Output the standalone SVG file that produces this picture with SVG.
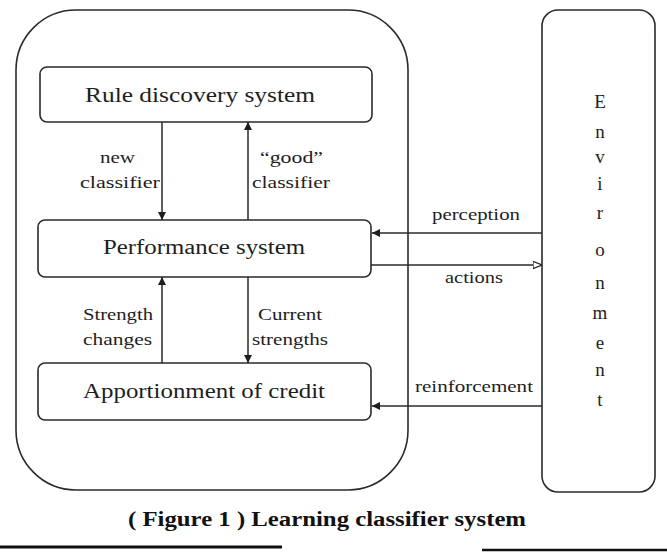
<svg xmlns="http://www.w3.org/2000/svg" width="667" height="560" viewBox="0 0 667 560">
<style>
.box{fill:none;stroke:#2a2a2a;stroke-width:1.6}
.ln{stroke:#2a2a2a;stroke-width:1.5;fill:none}
.t{font-family:"Liberation Serif","Times New Roman",serif;fill:#1e1e1e}
.title{font-size:20px}
.lbl{font-size:16px}
.env{font-size:19px;text-anchor:middle}
.cap{font-family:"Liberation Serif","Times New Roman",serif;font-weight:bold;font-size:20px;fill:#111}
</style>
<defs>
<marker id="fa" viewBox="0 0 10 10" refX="10" refY="5" markerWidth="8" markerHeight="8" markerUnits="userSpaceOnUse" orient="auto"><path d="M0,0 L10,5 L0,10 z" fill="#1e1e1e"/></marker>
<marker id="oa" viewBox="0 0 10 10" refX="10" refY="5" markerWidth="9" markerHeight="9" markerUnits="userSpaceOnUse" orient="auto"><path d="M0,1 L10,5 L0,9 z" fill="#fff" stroke="#1e1e1e" stroke-width="1.3"/></marker>
</defs>
<rect width="667" height="560" fill="#fff"/>
<g id="lcs">
<rect class="box" x="16" y="10" width="392" height="480" rx="60" ry="60"/>
</g>
<g id="rule">
<rect class="box" x="40" y="67" width="332" height="55" rx="7"/>
<text class="t title" x="85" y="102" textLength="230" lengthAdjust="spacingAndGlyphs">Rule discovery system</text>
</g>
<g id="perf">
<rect class="box" x="38" y="220" width="333" height="57" rx="7"/>
<text class="t title" x="103" y="254" textLength="202" lengthAdjust="spacingAndGlyphs">Performance system</text>
</g>
<g id="appo">
<rect class="box" x="38" y="363" width="333" height="57" rx="7"/>
<text class="t title" x="83" y="398" textLength="242" lengthAdjust="spacingAndGlyphs">Apportionment of credit</text>
</g>
<g id="env">
<rect class="box" x="542" y="10" width="113" height="482" rx="16"/>
<text class="t env" x="600" y="108">E</text>
<text class="t env" x="600" y="138">n</text>
<text class="t env" x="600" y="163">v</text>
<text class="t env" x="600" y="190">i</text>
<text class="t env" x="600" y="219">r</text>
<text class="t env" x="600" y="256">o</text>
<text class="t env" x="600" y="289">n</text>
<text class="t env" x="600" y="319">m</text>
<text class="t env" x="600" y="349">e</text>
<text class="t env" x="600" y="376">n</text>
<text class="t env" x="600" y="406">t</text>
</g>
<g id="connectors">
<line class="ln" x1="162" y1="122" x2="162" y2="220" marker-end="url(#fa)"/>
<line class="ln" x1="248" y1="220" x2="248" y2="122" marker-end="url(#fa)"/>
<line class="ln" x1="162" y1="363" x2="162" y2="277" marker-end="url(#fa)"/>
<line class="ln" x1="248" y1="277" x2="248" y2="363" marker-end="url(#fa)"/>
<line class="ln" x1="542" y1="233" x2="372" y2="233" marker-end="url(#fa)"/>
<line class="ln" x1="371" y1="265" x2="542" y2="265" marker-end="url(#oa)"/>
<line class="ln" x1="542" y1="406" x2="372" y2="406" marker-end="url(#fa)"/>
<text class="t lbl" x="100" y="163" textLength="35" lengthAdjust="spacingAndGlyphs">new</text>
<text class="t lbl" x="80" y="188" textLength="80" lengthAdjust="spacingAndGlyphs">classifier</text>
<text class="t lbl" x="260" y="163" textLength="63" lengthAdjust="spacingAndGlyphs">“good”</text>
<text class="t lbl" x="252" y="188" textLength="78" lengthAdjust="spacingAndGlyphs">classifier</text>
<text class="t lbl" x="83" y="320" textLength="70" lengthAdjust="spacingAndGlyphs">Strength</text>
<text class="t lbl" x="83" y="345" textLength="69" lengthAdjust="spacingAndGlyphs">changes</text>
<text class="t lbl" x="258" y="320" textLength="64" lengthAdjust="spacingAndGlyphs">Current</text>
<text class="t lbl" x="252" y="345" textLength="76" lengthAdjust="spacingAndGlyphs">strengths</text>
<text class="t lbl" x="432" y="220" textLength="88" lengthAdjust="spacingAndGlyphs">perception</text>
<text class="t lbl" x="445" y="283" textLength="58" lengthAdjust="spacingAndGlyphs">actions</text>
<text class="t lbl" x="415" y="392" textLength="118" lengthAdjust="spacingAndGlyphs">reinforcement</text>
</g>
<text class="cap" x="128" y="526" textLength="398" lengthAdjust="spacingAndGlyphs">( Figure 1 ) Learning classifier system</text>
<line x1="0" y1="547" x2="282" y2="547" stroke="#111" stroke-width="3"/>
<line x1="482" y1="550" x2="667" y2="550" stroke="#111" stroke-width="2.5"/>
</svg>
